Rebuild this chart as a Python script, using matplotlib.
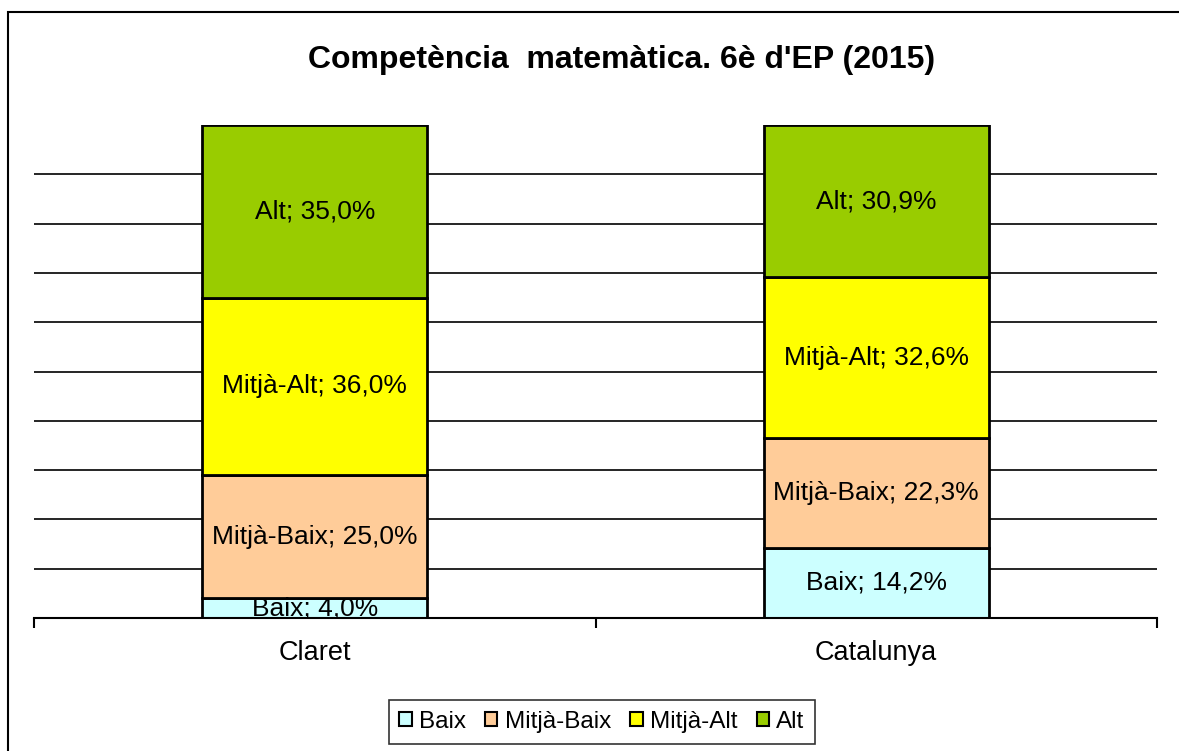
import matplotlib
matplotlib.use("Agg")
import matplotlib.pyplot as plt
from matplotlib.patches import Rectangle, Patch

categories = ["Claret", "Catalunya"]
levels = ["Baix", "Mitjà-Baix", "Mitjà-Alt", "Alt"]
baix = [4.0, 14.2]
mitja_baix = [25.0, 22.3]
mitja_alt = [36.0, 32.6]
alt = [35.0, 30.9]
colors = ["#CCFFFF", "#FFCC99", "#FFFF00", "#99CC00"]
title = "Competència  matemàtica. 6è d'EP (2015)"

plt.rcParams['font.family'] = ['Liberation Sans', 'DejaVu Sans']

W, H = 1179, 751
fig = plt.figure(figsize=(W / 100, H / 100), dpi=100)
fig.patch.set_facecolor("white")

# outer chart border
fig.add_artist(Rectangle((8 / W, -0.05), 1.2, 1 - 12 / H + 0.05, transform=fig.transFigure,
                         fill=False, edgecolor="black", linewidth=1.5))

ax = fig.add_axes([34 / W, 1 - 618 / H, (1157 - 34) / W, (618 - 125) / H])
ax.set_xlim(-0.5, 1.5)
ax.set_ylim(0, 100)
for s in ["top", "right", "left"]:
    ax.spines[s].set_visible(False)
ax.spines["bottom"].set_linewidth(1.5)
ax.set_yticks([])
for g in range(10, 100, 10):
    ax.axhline(g, color="black", linewidth=1.2, zorder=0)

ax.set_xticks([-0.5, 0.5, 1.5], minor=False)
ax.set_xticklabels([])
ax.tick_params(axis="x", length=7, width=1.5, direction="out")

series = [baix, mitja_baix, mitja_alt, alt]
x = list(range(len(categories)))
bottom = [0.0] * len(categories)
for lvl, vals, c in zip(levels, series, colors):
    ax.bar(x, vals, width=0.4, bottom=bottom, color=c, edgecolor="black", linewidth=2, zorder=2)
    for i, v in enumerate(vals):
        lab = f"{lvl}; {v:.1f}%".replace(".", ",")
        t = ax.text(x[i], bottom[i] + v / 2, lab, ha="center", va="center", fontsize=19, zorder=3)
        t.set_clip_on(True)
    bottom = [b + v for b, v in zip(bottom, vals)]

for i, c in enumerate(categories):
    ax.text(x[i], -7, c, ha="center", va="center", fontsize=19.5)

fig.text(621.5 / W, 1 - 60 / H, title, ha="center", va="center", fontsize=23, fontweight="bold")

handles = [Patch(facecolor=c, edgecolor="black", linewidth=1.5) for c in colors]
leg = fig.legend(handles, levels, loc="center", bbox_to_anchor=(602 / W, 1 - 722 / H), ncol=4,
                 frameon=True, fancybox=False, edgecolor="black", fontsize=17.5,
                 handlelength=0.5, handleheight=0.5, handletextpad=0.3, columnspacing=0.8,
                 borderpad=0.45)
leg.get_frame().set_linewidth(1.2)

fig.savefig("out.png", dpi=100)
